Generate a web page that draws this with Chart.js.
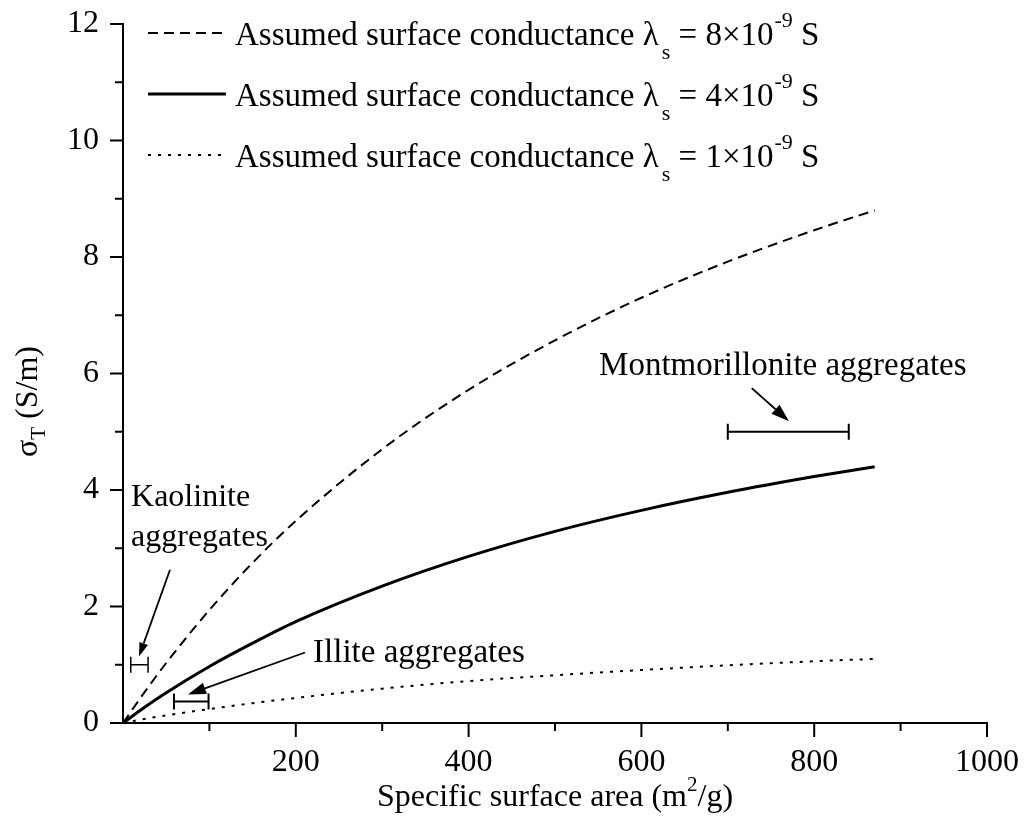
<!DOCTYPE html>
<html><head><meta charset="utf-8">
<script src="https://cdn.jsdelivr.net/npm/chart.js@4/dist/chart.umd.min.js"></script>
<style>html,body{margin:0;padding:0;background:#fff}#wrap{width:1025px;height:819px}</style>
</head><body><div id="wrap"><canvas id="c" width="1025" height="819"></canvas></div>
<script>
// ---- data ----
const surfaceArea = [0, 25, 50, 100, 150, 200, 300, 400, 500, 600, 700, 800, 870];
const sigmaLambda8 = [0, 0.53, 1.03, 1.94, 2.75, 3.47, 4.70, 5.72, 6.57, 7.30, 7.92, 8.46, 8.80];
const sigmaLambda4 = [0, 0.27, 0.52, 0.97, 1.37, 1.74, 2.35, 2.86, 3.29, 3.65, 3.96, 4.23, 4.40];
const sigmaLambda1 = [0, 0.07, 0.13, 0.24, 0.34, 0.43, 0.59, 0.72, 0.82, 0.91, 0.99, 1.06, 1.10];
const lambdaValues = ['8', '4', '1'];
const xTickValues = [0, 200, 400, 600, 800, 1000];
const yTickValues = [0, 2, 4, 6, 8, 10, 12];
// aggregate ranges (specific surface area range at a sigma level)
const aggregateNames = ['Kaolinite aggregates', 'Illite aggregates', 'Montmorillonite aggregates'];
const aggregateFrom = [9, 59, 700];
const aggregateTo = [29, 99, 840];
const aggregateSigma = [1.0, 0.37, 5.0];
// label anchors and arrows for the aggregates (data units)
const labelLines = [['Kaolinite', 'aggregates'], ['Illite aggregates'], ['Montmorillonite aggregates']];
const labelX = [9.3, 220, 551];
const labelY = [3.72, 1.04, 5.98];
const arrowFromX = [54.4, 210.6, 727.7];
const arrowFromY = [2.63, 1.21, 5.75];
const arrowToX = [18.5, 75.2, 770.8];
const arrowToY = [1.14, 0.49, 5.18];

const FONT = '"Liberation Serif", "Times New Roman", serif';
const styles = [
  {dash: [10, 6], width: 2},
  {dash: [], width: 3},
  {dash: [3, 7], width: 2}
];
const labelSizes = [32, 33, 33];
const seriesData = [sigmaLambda8, sigmaLambda4, sigmaLambda1];

function pts(arr) { return surfaceArea.map((s, i) => ({x: s, y: arr[i]})); }

const drawExtras = {
  id: 'drawExtras',
  afterDraw(chart) {
    const ctx = chart.ctx;
    const xs = chart.scales.x, ys = chart.scales.y;
    const ca = chart.chartArea;
    ctx.save();
    ctx.strokeStyle = '#000';
    ctx.fillStyle = '#000';
    ctx.lineCap = 'butt';
    // ticks: y
    ctx.lineWidth = 2;
    for (let i = 0; i < yTickValues.length; i++) {
      const py = ys.getPixelForValue(yTickValues[i]);
      ctx.beginPath(); ctx.moveTo(ca.left, py); ctx.lineTo(ca.left - 13, py); ctx.stroke();
      if (i < yTickValues.length - 1) {
        const pm = ys.getPixelForValue((yTickValues[i] + yTickValues[i + 1]) / 2);
        ctx.beginPath(); ctx.moveTo(ca.left, pm); ctx.lineTo(ca.left - 8, pm); ctx.stroke();
      }
    }
    // ticks: x
    for (let i = 0; i < xTickValues.length; i++) {
      const px = xs.getPixelForValue(xTickValues[i]);
      if (xTickValues[i] !== 0) {
        ctx.beginPath(); ctx.moveTo(px, ca.bottom); ctx.lineTo(px, ca.bottom + 14); ctx.stroke();
      }
      if (i < xTickValues.length - 1) {
        const pm = xs.getPixelForValue((xTickValues[i] + xTickValues[i + 1]) / 2);
        ctx.beginPath(); ctx.moveTo(pm, ca.bottom); ctx.lineTo(pm, ca.bottom + 8); ctx.stroke();
      }
    }
    // aggregate range bars
    for (let i = 0; i < aggregateNames.length; i++) {
      const x0 = xs.getPixelForValue(aggregateFrom[i]);
      const x1 = xs.getPixelForValue(aggregateTo[i]);
      const py = ys.getPixelForValue(aggregateSigma[i]);
      ctx.lineWidth = i === 0 ? 1.5 : 2;
      ctx.beginPath();
      ctx.moveTo(x0, py); ctx.lineTo(x1, py);
      ctx.moveTo(x0, py - 8); ctx.lineTo(x0, py + 8);
      ctx.moveTo(x1, py - 8); ctx.lineTo(x1, py + 8);
      ctx.stroke();
    }
    // arrows
    for (let i = 0; i < arrowFromX.length; i++) {
      const ax = xs.getPixelForValue(arrowFromX[i]), ay = ys.getPixelForValue(arrowFromY[i]);
      const bx = xs.getPixelForValue(arrowToX[i]), by = ys.getPixelForValue(arrowToY[i]);
      const ang = Math.atan2(by - ay, bx - ax);
      const hl = i === 0 ? 14 : 18, hw = i === 0 ? 4.5 : 6;
      const baseX = bx - hl * Math.cos(ang), baseY = by - hl * Math.sin(ang);
      ctx.lineWidth = 1.8;
      ctx.beginPath(); ctx.moveTo(ax, ay); ctx.lineTo(baseX, baseY); ctx.stroke();
      ctx.beginPath();
      ctx.moveTo(bx, by);
      ctx.lineTo(baseX + hw * Math.sin(ang), baseY - hw * Math.cos(ang));
      ctx.lineTo(baseX - hw * Math.sin(ang), baseY + hw * Math.cos(ang));
      ctx.closePath(); ctx.fill();
    }
    // aggregate labels
    ctx.textAlign = 'left';
    ctx.textBaseline = 'alphabetic';
    for (let i = 0; i < labelLines.length; i++) {
      ctx.font = labelSizes[i] + 'px ' + FONT;
      const px = xs.getPixelForValue(labelX[i]);
      const py = ys.getPixelForValue(labelY[i]);
      labelLines[i].forEach((t, k) => ctx.fillText(t, px, py + k * 40));
    }
    // legend
    for (let i = 0; i < lambdaValues.length; i++) {
      const ly = 33 + 61 * i;
      ctx.lineWidth = styles[i].width;
      ctx.setLineDash(styles[i].dash);
      ctx.beginPath(); ctx.moveTo(148, ly); ctx.lineTo(226, ly); ctx.stroke();
      ctx.setLineDash([]);
      const base = ly + 12;
      let x = 235;
      ctx.font = '33px ' + FONT;
      const t1 = 'Assumed surface conductance \u03bb';
      ctx.fillText(t1, x, base); x += ctx.measureText(t1).width + 3;
      ctx.font = '22px ' + FONT;
      ctx.fillText('s', x, base + 14); x += ctx.measureText('s').width;
      ctx.font = '33px ' + FONT;
      const t2 = ' = ' + lambdaValues[i] + '\u00d710';
      ctx.fillText(t2, x, base); x += ctx.measureText(t2).width + 1;
      ctx.font = '22px ' + FONT;
      ctx.fillText('-9', x, base - 18); x += ctx.measureText('-9').width;
      ctx.font = '33px ' + FONT;
      ctx.fillText(' S', x, base);
    }
    // x axis title
    {
      ctx.font = '32px ' + FONT;
      const a = 'Specific surface area (m', b = '2', c = '/g)';
      const wa = ctx.measureText(a).width, wc = ctx.measureText(c).width;
      ctx.font = '21px ' + FONT;
      const wb = ctx.measureText(b).width;
      const total = wa + wb + wc;
      let x = (ca.left + ca.right) / 2 - total / 2;
      const base = 806;
      ctx.font = '32px ' + FONT; ctx.fillText(a, x, base); x += wa;
      ctx.font = '21px ' + FONT; ctx.fillText(b, x, base - 15); x += wb;
      ctx.font = '32px ' + FONT; ctx.fillText(c, x, base);
    }
    // y axis title (rotated)
    {
      ctx.translate(37, 457);
      ctx.rotate(-Math.PI / 2);
      let x = 0;
      ctx.font = '32px ' + FONT;
      ctx.fillText('\u03c3', x, 0); x += ctx.measureText('\u03c3').width;
      ctx.font = '21px ' + FONT;
      ctx.fillText('T', x, 8); x += ctx.measureText('T').width;
      ctx.font = '32px ' + FONT;
      ctx.fillText(' (S/m)', x, 0);
    }
    ctx.restore();
  }
};

new Chart(document.getElementById('c'), {
  type: 'line',
  data: {
    datasets: seriesData.map((d, i) => ({
      label: 'lambda_s = ' + lambdaValues[i] + 'e-9 S',
      data: pts(d),
      borderColor: '#000',
      borderWidth: styles[i].width,
      borderDash: styles[i].dash,
      pointRadius: 0,
      fill: false,
      cubicInterpolationMode: 'monotone'
    }))
  },
  options: {
    responsive: false,
    animation: false,
    devicePixelRatio: 1,
    layout: {padding: {top: 24, right: 38, left: 0, bottom: 0}},
    plugins: {legend: {display: false}, tooltip: {enabled: false}},
    scales: {
      x: {
        type: 'linear', min: 0, max: 1000,
        afterBuildTicks: s => { s.ticks = xTickValues.map(v => ({value: v})); },
        afterFit: s => { s.height = 96; s.paddingLeft = 0; s.paddingRight = 0; },
        grid: {display: false},
        border: {display: true, color: '#000', width: 2},
        ticks: {
          color: '#000', padding: 12, maxRotation: 0, autoSkip: false,
          font: {family: FONT, size: 32},
          callback: v => (v === 0 ? '' : String(v))
        }
      },
      y: {
        type: 'linear', min: 0, max: 12,
        afterBuildTicks: s => { s.ticks = yTickValues.map(v => ({value: v})); },
        afterFit: s => { s.width = 123; s.paddingTop = 0; s.paddingBottom = 0; },
        grid: {display: false},
        border: {display: true, color: '#000', width: 2},
        ticks: {
          color: '#000', padding: 16, autoSkip: false,
          font: {family: FONT, size: 32},
          callback: v => String(v)
        }
      }
    }
  },
  plugins: [drawExtras]
});
</script>
</body></html>
